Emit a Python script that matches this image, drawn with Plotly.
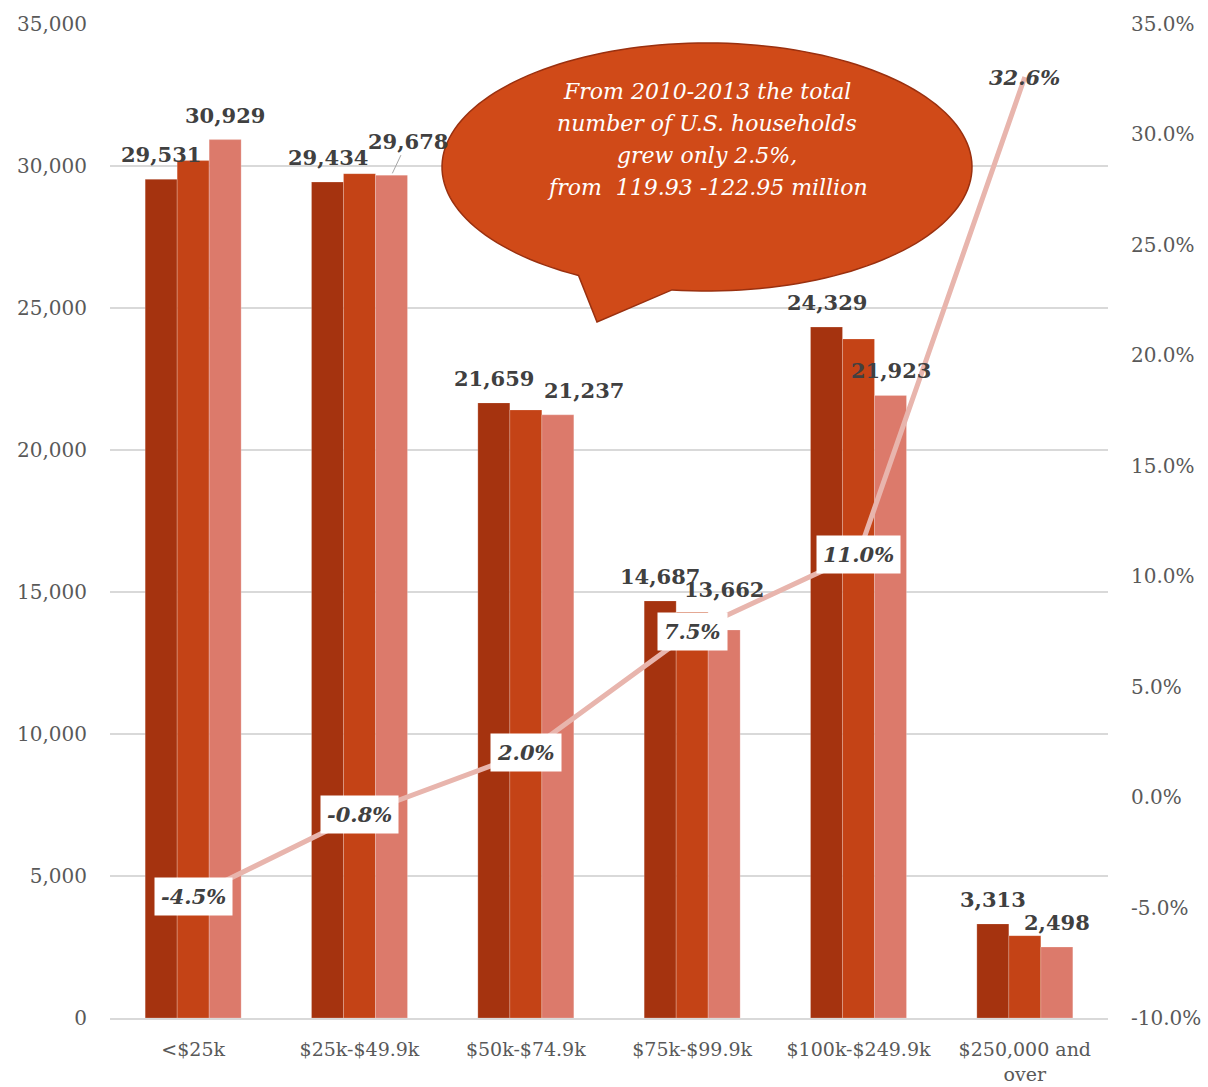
import numpy as np
import plotly.graph_objects as go

# ---------------- data ----------------
categories = ["<$25k", "$25k-$49.9k", "$50k-$74.9k", "$75k-$99.9k", "$100k-$249.9k", "$250,000 and<br>over"]
hh_2013 = [29531, 29434, 21659, 14687, 24329, 3313]
hh_mid = [30190, 29730, 21410, 14300, 23910, 2900]
hh_2010 = [30929, 29678, 21237, 13662, 21923, 2498]
pct_change = [-4.5, -0.8, 2.0, 7.5, 11.0, 32.6]
left_ticks = [0, 5000, 10000, 15000, 20000, 25000, 30000, 35000]
right_ticks = [-0.10, -0.05, 0.0, 0.05, 0.10, 0.15, 0.20, 0.25, 0.30, 0.35]
right_ticktext = [f"{v * 100:.1f}%" for v in right_ticks]
callout_lines = ["From 2010-2013 the total", "number of U.S. households",
                 "grew only 2.5%,", "from\u00a0 119.93 -122.95 million"]

# ---------------- layout constants ----------------
W, H = 1208, 1087
ML, MR, MT, MB = 110, 100, 24, 69
PW, PH = W - ML - MR, H - MT - MB

def px(x):
    return (x - ML) / PW

def py(y):
    return (H - MB - y) / PH

SERIF = "DejaVu Serif, serif"
LBL = dict(family=SERIF, size=21, color="#404040")
C_DARK, C_MID, C_LIGHT = "#A5330F", "#C44316", "#DC7A6B"
C_LINE = "#E8B5AD"
TICKF = dict(family=SERIF, size=20, color="#595959")

fig = go.Figure()
for name, vals, col in [("2013", hh_2013, C_DARK), ("2012", hh_mid, C_MID), ("2010", hh_2010, C_LIGHT)]:
    fig.add_trace(go.Bar(x=categories, y=vals, name=name,
                         marker=dict(color=col, line=dict(width=0.6, color="rgba(255,255,255,0.35)")),
                         hoverinfo="skip"))

pct = [p / 100 for p in pct_change]
fig.add_trace(go.Scatter(x=categories, y=pct, yaxis="y2", mode="lines",
                         line=dict(color=C_LINE, width=5), hoverinfo="skip", name="% change"))

annotations = []
# bar value labels (first and third series)
for i, c in enumerate(categories):
    for vals, xs in [(hh_2013, -32), (hh_2010, 32)]:
        a = dict(x=c, y=vals[i], xref="x", yref="y", text=f"<b>{vals[i]:,}</b>", font=LBL,
                 showarrow=False, xshift=xs, yanchor="bottom", yshift=10)
        annotations.append(a)
# adjust crowded labels
for a in annotations:
    if a["x"] == categories[1] and a["xshift"] == 32:
        a.update(showarrow=True, ax=16, ay=-34, arrowhead=0, arrowwidth=1, arrowcolor="#A6A6A6",
                 yanchor="middle", yshift=0, xshift=32, standoff=2)
    elif a["x"] == categories[2] and a["xshift"] == 32:
        a.update(xshift=58)
    elif a["x"] == categories[3] and a["xshift"] == 32:
        a.update(yshift=26)

# line labels
for c, p in zip(categories, pct_change):
    annotations.append(dict(x=c, y=p / 100, xref="x", yref="y2", text=f"<b><i>{p:.1f}%</i></b>",
                            font=dict(family=SERIF, size=21, color="#404040"),
                            showarrow=False, bgcolor="white" if p < 30 else "rgba(0,0,0,0)", borderpad=6))

# callout text
for k, t in enumerate(callout_lines):
    annotations.append(dict(x=px(707), y=py(91 + 32 * k), xref="paper", yref="paper", text=f"<i>{t}</i>",
                            font=dict(family=SERIF, size=22, color="white"),
                            showarrow=False, xanchor="center", yanchor="middle"))

# callout shape (ellipse + tail)
cx, cy, rx, ry = 707, 167, 265, 124
a_start = np.deg2rad(97.6)
a_end = np.deg2rad(119 - 360)
th = np.linspace(a_start, a_end, 160)
pts = [(cx + rx * np.cos(t), cy + ry * np.sin(t)) for t in th]
path = "M {:.5f},{:.5f} ".format(px(pts[0][0]), py(pts[0][1]))
path += " ".join("L {:.5f},{:.5f}".format(px(x), py(y)) for x, y in pts[1:])
path += " L {:.5f},{:.5f} Z".format(px(597), py(322))

fig.update_layout(
    width=W, height=H,
    margin=dict(l=ML, r=MR, t=MT, b=MB, autoexpand=False),
    paper_bgcolor="white", plot_bgcolor="white",
    barmode="group", bargap=0.423, bargroupgap=0,
    showlegend=False,
    xaxis=dict(showline=True, linecolor="#D9D9D9", linewidth=2, ticks="outside", ticklen=13,
               tickcolor="rgba(0,0,0,0)", automargin=False,
               tickfont=dict(family=SERIF, size=19, color="#595959")),
    yaxis=dict(range=[0, 35000], tickvals=left_ticks, tickformat=",", showgrid=True, gridcolor="#D9D9D9",
               gridwidth=1.5, zeroline=False, ticks="outside", ticklen=18, tickcolor="rgba(0,0,0,0)",
               automargin=False, tickfont=TICKF),
    yaxis2=dict(range=[-0.10, 0.35], tickvals=right_ticks, ticktext=right_ticktext, overlaying="y", side="right",
                showgrid=False, zeroline=False, ticks="outside", ticklen=18, tickcolor="rgba(0,0,0,0)",
                automargin=False, tickfont=TICKF),
    shapes=[dict(type="path", path=path, xref="paper", yref="paper", fillcolor="#D04A18",
                 line=dict(color="#9A300F", width=1.5), layer="above")],
    annotations=annotations,
)

fig.write_html("out.html", config={"displayModeBar": False})
